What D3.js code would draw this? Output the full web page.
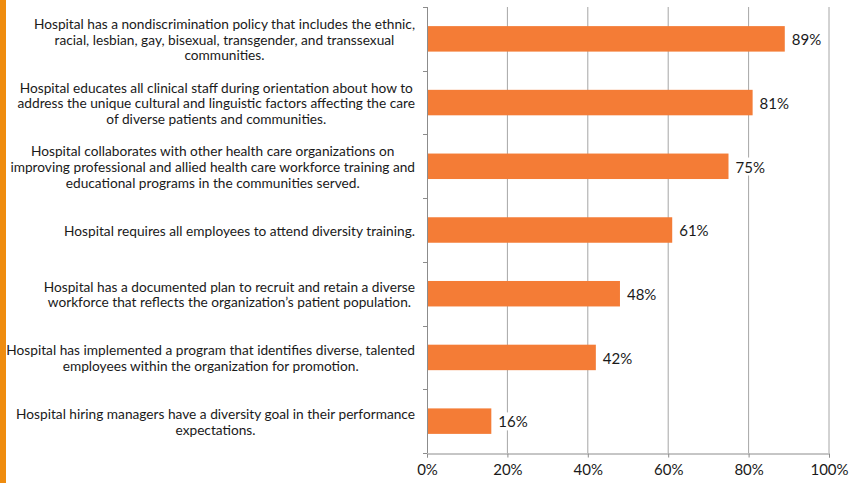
<!DOCTYPE html>
<html>
<head>
<meta charset="utf-8">
<script src="https://cdn.jsdelivr.net/npm/d3@7"></script>
<style>
  body { margin: 0; background: #fff; }
  svg text { font-family: "Lato", "Open Sans", sans-serif; fill: #1a1a1a; }
</style>
</head>
<body>
<div id="chart"></div>
<script>
var categories = [
    ["Hospital has a nondiscrimination policy that includes the ethnic,", "racial, lesbian, gay, bisexual, transgender, and transsexual", "communities."],
    ["Hospital educates all clinical staff during orientation about how to", "address the unique cultural and linguistic factors affecting the care", "of diverse patients and communities."],
    ["Hospital collaborates with other health care organizations on", "improving professional and allied health care workforce training and", "educational programs in the communities served."],
    ["Hospital requires all employees to attend diversity training."],
    ["Hospital has a documented plan to recruit and retain a diverse", "workforce that reflects the organization\u2019s patient population."],
    ["Hospital has implemented a program that identifies diverse, talented", "employees within the organization for promotion."],
    ["Hospital hiring managers have a diversity goal in their performance", "expectations."]
];
var values = [89, 81, 75, 61, 48, 42, 16];
var xTicks = [0, 20, 40, 60, 80, 100];

function drawChart() {
    var width = 850, height = 483;
    var left = 427, right = 829, top = 7, bottom = 453;

    var svg = d3.select('#chart').append('svg')
        .attr('width', width)
        .attr('height', height);

    // orange strip on the left edge
    svg.append('rect')
        .attr('x', 0).attr('y', 0)
        .attr('width', 6).attr('height', height)
        .attr('fill', '#ef8c0e');

    var x = d3.scaleLinear().domain([0, 100]).range([left, right]);
    var y = d3.scaleBand().domain(d3.range(categories.length))
        .range([top, bottom]).paddingInner(0.6).paddingOuter(0.3);

    // grid lines
    svg.append('g').selectAll('line')
        .data(xTicks.slice(1))
        .enter().append('line')
        .attr('x1', function(d) { return x(d); })
        .attr('x2', function(d) { return x(d); })
        .attr('y1', top).attr('y2', bottom)
        .attr('stroke', '#a6a6a6')
        .attr('stroke-width', 1);

    // bars
    svg.append('g').selectAll('rect')
        .data(values)
        .enter().append('rect')
        .attr('x', x(0))
        .attr('y', function(d, i) { return y(i); })
        .attr('width', function(d) { return x(d) - x(0); })
        .attr('height', y.bandwidth())
        .attr('fill', '#f47c36');

    // value labels with white backing (they hide the grid lines)
    var labG = svg.append('g').selectAll('g')
        .data(values)
        .enter().append('g')
        .attr('transform', function(d, i) {
            return 'translate(' + (x(d) + 7) + ',' + (y(i) + y.bandwidth() / 2 + 1) + ')';
        });
    labG.append('rect')
        .attr('fill', '#fff');
    labG.append('text')
        .attr('dy', '0.35em')
        .attr('font-size', 15)
        .text(function(d) { return d + '%'; });
    labG.each(function() {
        var g = d3.select(this);
        var b = g.select('text').node().getBBox();
        g.select('rect')
            .attr('x', b.x - 2).attr('y', b.y)
            .attr('width', b.width + 4).attr('height', b.height);
    });

    // left axis line with ticks at band edges
    var step = (bottom - top) / categories.length;
    var axisG = svg.append('g').attr('stroke', '#8c8c8c').attr('stroke-width', 1);
    axisG.append('line')
        .attr('x1', left + 0.5).attr('x2', left + 0.5)
        .attr('y1', top).attr('y2', bottom);
    axisG.selectAll('line.tk')
        .data(d3.range(categories.length + 1))
        .enter().append('line')
        .attr('class', 'tk')
        .attr('x1', left - 4).attr('x2', left)
        .attr('y1', function(i) { return Math.round(top + i * step) + 0.5; })
        .attr('y2', function(i) { return Math.round(top + i * step) + 0.5; });

    // bottom axis
    var xAxis = d3.axisBottom(x)
        .tickValues(xTicks)
        .tickSize(4)
        .tickFormat(function(d) { return d + '%'; });
    var gx = svg.append('g')
        .attr('transform', 'translate(0,' + (bottom + 0.5) + ')')
        .call(xAxis);
    gx.select('.domain').attr('stroke', '#8c8c8c');
    gx.selectAll('.tick line').attr('stroke', '#8c8c8c');
    gx.selectAll('.tick text')
        .attr('font-size', 15)
        .attr('font-family', '"Lato", "Open Sans", sans-serif')
        .attr('fill', '#1a1a1a')
        .attr('y', 11);

    // category labels: block right-aligned, lines centered within block
    var lineH = 15.7;
    var labelRight = 415;
    categories.forEach(function(lines, i) {
        var cy = y(i) + y.bandwidth() / 2 + 1;
        var g = svg.append('g');
        var texts = lines.map(function(line, j) {
            return g.append('text')
                .attr('font-size', 13.7)
                .attr('text-anchor', 'middle')
                .attr('y', cy + (j - (lines.length - 1) / 2) * lineH)
                .attr('dy', '0.35em')
                .text(line);
        });
        var maxW = d3.max(texts, function(t) { return t.node().getComputedTextLength(); });
        texts.forEach(function(t) { t.attr('x', labelRight - maxW / 2); });
    });
}

document.addEventListener('DOMContentLoaded', drawChart);
</script>
</body>
</html>
